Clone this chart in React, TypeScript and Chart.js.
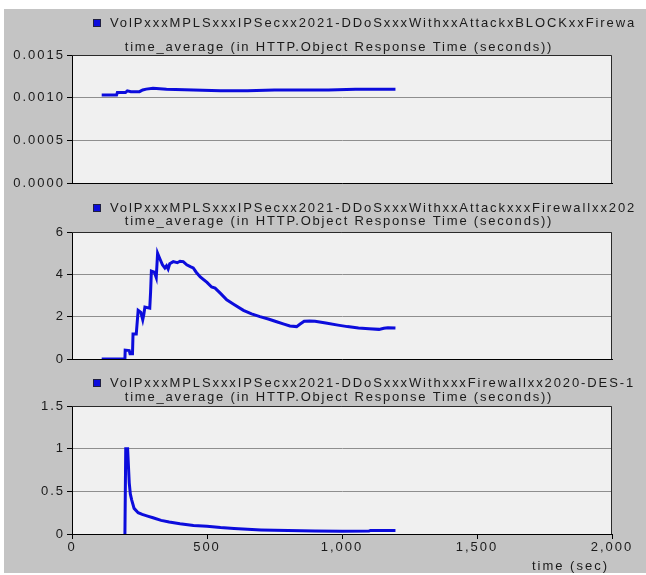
import React, { useEffect, useRef } from "react";
import { Chart, registerables } from "chart.js";

Chart.register(...registerables);

const FONT_FAMILY = "'Liberation Sans', Arial, sans-serif";
const FONT_SIZE = 13;
const LINE_COLOR = "#0c0cdc";
const PANEL_BG = "#c4c4c4";
const PLOT_BG = "#f0f0f0";
const GRID_COLOR = "#8e8e8e";
const TEXT_COLOR = "#1a1a1a";

const xTicks = [0, 500, 1000, 1500, 2000];
const xTickLabels = ["0", "500", "1,000", "1,500", "2,000"];
const xAxisLabel = "time (sec)";
const seriesTitle = "time_average (in HTTP.Object Response Time (seconds))";

// Panel 1
const legend1 = "VolPxxxMPLSxxxIPSecxx2021-DDoSxxxWithxxAttackxBLOCKxxFirewa";
const times1 = [110, 165, 168, 198, 205, 218, 250, 262, 275, 300, 350, 450, 550, 650, 750, 850, 950, 1050, 1150, 1198];
const values1 = [0.00103, 0.00103, 0.00106, 0.00106, 0.00108, 0.00107, 0.00107, 0.00109, 0.0011, 0.00111, 0.0011, 0.00109, 0.00108, 0.00108, 0.00109, 0.00109, 0.00109, 0.0011, 0.0011, 0.0011];
const yTicks1 = [0, 0.0005, 0.001, 0.0015];
const yTickLabels1 = ["0.0000", "0.0005", "0.0010", "0.0015"];

// Panel 2
const legend2 = "VolPxxxMPLSxxxIPSecxx2021-DDoSxxxWithxxAttackxxxFirewallxx202";
const times2 = [110, 196, 197, 212, 215, 224, 226, 238, 245, 255, 262, 266, 270, 288, 291, 294, 305, 312, 317, 325, 335, 344, 350, 356, 362, 375, 390, 400, 412, 425, 440, 449, 460, 475, 500, 517, 530, 550, 573, 600, 635, 665, 696, 730, 758, 785, 807, 832, 845, 860, 880, 900, 940, 985, 1020, 1061, 1100, 1137, 1155, 1170, 1198];
const values2 = [0, 0, 0.42, 0.4, 0.25, 0.25, 1.18, 1.18, 2.3, 2.2, 1.85, 2.1, 2.45, 2.4, 3.15, 4.15, 4.1, 3.85, 5.0, 4.75, 4.45, 4.3, 4.4, 4.25, 4.5, 4.6, 4.55, 4.62, 4.6, 4.45, 4.35, 4.3, 4.1, 3.88, 3.62, 3.4, 3.35, 3.1, 2.8, 2.58, 2.3, 2.13, 2.0, 1.88, 1.76, 1.65, 1.56, 1.53, 1.65, 1.78, 1.8, 1.78, 1.7, 1.6, 1.53, 1.47, 1.43, 1.4, 1.45, 1.48, 1.47];
const yTicks2 = [0, 2, 4, 6];
const yTickLabels2 = ["0", "2", "4", "6"];

// Panel 3
const legend3 = "VolPxxxMPLSxxxIPSecxx2021-DDoSxxxWithxxxFirewallxx2020-DES-1";
const times3 = [196, 199, 206, 209, 212, 216, 221, 230, 245, 260, 280, 300, 330, 360, 400, 450, 500, 550, 600, 650, 700, 800, 900, 1000, 1100, 1105, 1198];
const values3 = [0, 1.0, 1.0, 0.8, 0.6, 0.47, 0.4, 0.3, 0.25, 0.23, 0.21, 0.19, 0.16, 0.14, 0.12, 0.1, 0.09, 0.075, 0.065, 0.055, 0.048, 0.04, 0.035, 0.033, 0.035, 0.042, 0.042];
const yTicks3 = [0, 0.5, 1, 1.5];
const yTickLabels3 = ["0", "0.5", "1", "1.5"];

const TICK_SPACING = "2.0px";
const LEGEND_SPACING = "1.9px";
const TITLE_SPACING = "1.8px";

type PanelProps = {
  top: number;
  height: number;
  padTop: number;
  xAxisH: number;
  times: number[];
  values: number[];
  yTicks: number[];
  yLabels: string[];
  legend: string;
  legendY: number;
  titleY: number;
  showX: boolean;
};

function Panel(props: PanelProps) {
  const ref = useRef<HTMLCanvasElement | null>(null);
  useEffect(() => {
    const canvas = ref.current;
    if (!canvas) return;
    const p = props;
    const deco = {
      id: "deco",
      beforeDraw(chart: any) {
        const { ctx, chartArea: a, width, height } = chart;
        ctx.save();
        ctx.fillStyle = PANEL_BG;
        ctx.fillRect(0, 0, width, height);
        ctx.fillStyle = PLOT_BG;
        ctx.fillRect(a.left, a.top, a.right - a.left, a.bottom - a.top);
        ctx.restore();
        (ctx as any).letterSpacing = TICK_SPACING;
      },
      beforeDatasetsDraw(chart: any) {
        const { ctx, chartArea: a } = chart;
        ctx.save();
        ctx.strokeStyle = "#2a2a2a";
        ctx.lineWidth = 1;
        ctx.beginPath();
        ctx.moveTo(a.left, a.top + 0.5);
        ctx.lineTo(a.right - 0.5, a.top + 0.5);
        ctx.lineTo(a.right - 0.5, a.bottom);
        ctx.stroke();
        ctx.restore();
      },
      afterDraw(chart: any) {
        const { ctx, chartArea: a } = chart;
        ctx.save();
        // legend
        ctx.fillStyle = LINE_COLOR;
        ctx.fillRect(89, p.legendY - 4, 8, 8);
        ctx.strokeStyle = "#202040";
        ctx.lineWidth = 1;
        ctx.strokeRect(89.5, p.legendY - 3.5, 7, 7);
        ctx.fillStyle = TEXT_COLOR;
        ctx.font = `${FONT_SIZE}px ${FONT_FAMILY}`;
        ctx.textBaseline = "middle";
        ctx.textAlign = "left";
        (ctx as any).letterSpacing = LEGEND_SPACING;
        ctx.fillText(p.legend, 106, p.legendY);
        // title
        (ctx as any).letterSpacing = TITLE_SPACING;
        ctx.textAlign = "center";
        ctx.fillText(seriesTitle, (a.left + a.right) / 2 - 3, p.titleY);
        if (p.showX) {
          (ctx as any).letterSpacing = TICK_SPACING;
          ctx.textAlign = "right";
          ctx.textBaseline = "alphabetic";
          ctx.fillText(xAxisLabel, a.right - 3, chart.height - 3);
        }
        ctx.restore();
      },
    };

    const chart = new Chart(canvas, {
      type: "line",
      data: {
        datasets: [
          {
            data: p.times.map((t, i) => ({ x: t, y: p.values[i] })),
            borderColor: LINE_COLOR,
            borderWidth: 3,
            pointRadius: 0,
            tension: 0,
            fill: false,
          },
        ],
      },
      options: {
        animation: false,
        responsive: false,
        devicePixelRatio: 1,
        layout: { padding: { top: p.padTop, right: 34, left: 0, bottom: 0 } },
        plugins: { legend: { display: false }, title: { display: false }, tooltip: { enabled: false } },
        scales: {
          x: {
            type: "linear",
            min: 0,
            max: 2000,
            afterBuildTicks: (s: any) => {
              s.ticks = xTicks.map((v) => ({ value: v }));
            },
            afterFit: (s: any) => {
              s.height = p.xAxisH;
            },
            grid: {
              drawOnChartArea: false,
              drawTicks: p.showX,
              tickLength: 5,
              tickColor: "#000",
            },
            border: { color: "#000", width: 1 },
            ticks: {
              display: p.showX,
              autoSkip: false,
              maxRotation: 0,
              padding: 1,
              color: TEXT_COLOR,
              font: { family: FONT_FAMILY, size: FONT_SIZE },
              callback: (_v: any, i: number) => xTickLabels[i],
            },
          },
          y: {
            type: "linear",
            min: p.yTicks[0],
            max: p.yTicks[p.yTicks.length - 1],
            afterBuildTicks: (s: any) => {
              s.ticks = p.yTicks.map((v) => ({ value: v }));
            },
            afterFit: (s: any) => {
              s.width = 68;
            },
            grid: { color: GRID_COLOR, lineWidth: 1, tickLength: 5, tickColor: "#000" },
            border: { color: "#000", width: 1 },
            ticks: {
              autoSkip: false,
              padding: 2,
              color: TEXT_COLOR,
              font: { family: FONT_FAMILY, size: FONT_SIZE },
              callback: (_v: any, i: number) => p.yLabels[i],
            },
          },
        },
      },
      plugins: [deco],
    } as any);
    return () => chart.destroy();
  }, []);
  return (
    <canvas
      ref={ref}
      width={642}
      height={props.height}
      style={{ position: "absolute", left: 0, top: props.top, width: 642, height: props.height, display: "block" }}
    />
  );
}

export default function App() {
  useEffect(() => {
    document.body.style.margin = "0";
  }, []);
  return (
    <div style={{ position: "absolute", left: 0, top: 0, width: 646, height: 575, background: "#ffffff", overflow: "hidden" }}>
      <div style={{ position: "absolute", left: 4, top: 9, width: 642, height: 564, background: PANEL_BG }}>
        <Panel top={0} height={186} padTop={46} xAxisH={12} times={times1} values={values1} yTicks={yTicks1} yLabels={yTickLabels1} legend={legend1} legendY={14} titleY={38} showX={false} />
        <Panel top={186} height={177} padTop={37} xAxisH={13} times={times2} values={values2} yTicks={yTicks2} yLabels={yTickLabels2} legend={legend2} legendY={13} titleY={26} showX={false} />
        <Panel top={363} height={201} padTop={34} xAxisH={39} times={times3} values={values3} yTicks={yTicks3} yLabels={yTickLabels3} legend={legend3} legendY={11} titleY={25} showX={true} />
      </div>
    </div>
  );
}
